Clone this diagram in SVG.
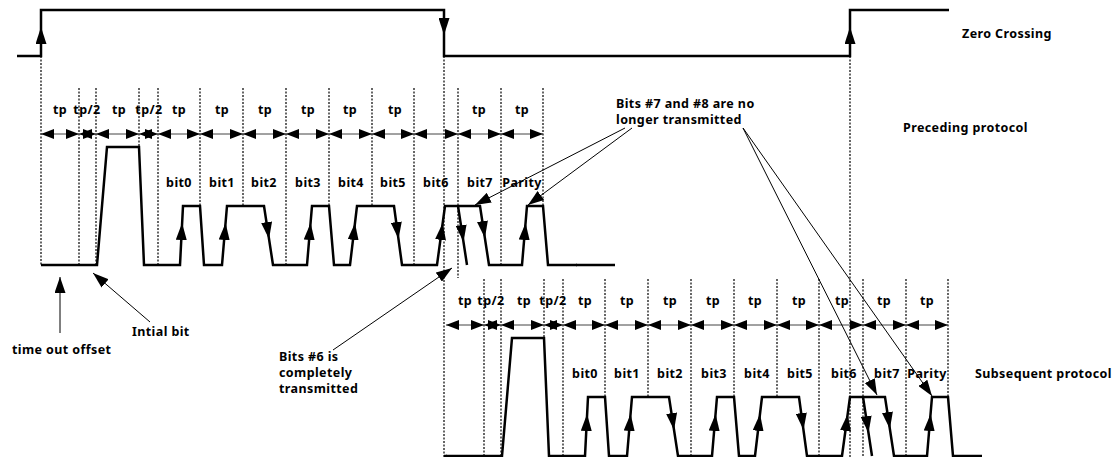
<svg xmlns="http://www.w3.org/2000/svg" xmlns:xlink="http://www.w3.org/1999/xlink" width="1117" height="457" viewBox="0 0 1117 457">
<style>
.t{font-family:"Noto Sans","DejaVu Sans",sans-serif;font-weight:bold;font-size:12.5px;letter-spacing:0.4px;fill:#000}
.c{text-anchor:middle}
.dot{stroke:#000;stroke-width:1.2;stroke-dasharray:2 1.5;fill:none}
.dim{stroke:#444;stroke-width:1;fill:none;marker-start:url(#dh);marker-end:url(#dh)}
.sig{stroke:#000;stroke-width:2.5;fill:none;stroke-linejoin:miter}
.ea{stroke:none;fill:none;marker-end:url(#eh)}
.ann{stroke:#000;stroke-width:1;fill:none;marker-end:url(#ah)}
</style>
<defs>
<marker id="dh" viewBox="0 0 13 10" refX="13" refY="5" markerWidth="13" markerHeight="10" markerUnits="userSpaceOnUse" orient="auto-start-reverse"><path d="M0,0 L13,5 L0,10 z" fill="#000"/></marker>
<marker id="eh" viewBox="0 0 17 11" refX="17" refY="5.5" markerWidth="17" markerHeight="11" markerUnits="userSpaceOnUse" orient="auto"><path d="M0,0 L17,5.5 L0,11 z" fill="#000"/></marker>
<marker id="ah" viewBox="0 0 16 11" refX="16" refY="5.5" markerWidth="16" markerHeight="11" markerUnits="userSpaceOnUse" orient="auto"><path d="M0,0 L16,5.5 L0,11 z" fill="#000"/></marker>
<g id="proto-gfx">
<path class="dot" d="M79,88V265 M96,88V265 M139,88V147 M158,88V265 M200,88V206 M243,88V206 M286,88V265 M329,88V206 M372,88V206 M414,88V265 M458,88V278 M501,88V265 M543,88V206"/>
<path class="dim" d="M41,134H79"/>
<path class="dim" d="M79,134H96"/>
<path class="dim" d="M96,134H139"/>
<path class="dim" d="M139,134H158"/>
<path class="dim" d="M158,134H200"/>
<path class="dim" d="M200,134H243"/>
<path class="dim" d="M243,134H286"/>
<path class="dim" d="M286,134H329"/>
<path class="dim" d="M329,134H372"/>
<path class="dim" d="M372,134H414"/>
<path class="dim" d="M414,134H458"/>
<path class="dim" d="M458,134H501"/>
<path class="dim" d="M501,134H543"/>
<path class="sig" d="M41,265 L97,265 L107,147 L139,147 L144,265 L180,265 L183,206 L200,206 L204,265 L222,265 L227,206 L264,206 L273,265 L307,265 L312,206 L329,206 L334,265 L350,265 L357,206 L394,206 L402,265 L437,265 L445,206 L480,206 L489,265 L522,265 L527,206 L543,206 L548,265 L577,265 M458,206 L467,265"/>
<path class="ea" d="M181.3,240 L182.1,223"/>
<path class="ea" d="M224.2,240 L225.6,223"/>
<path class="ea" d="M309.2,240 L310.6,223"/>
<path class="ea" d="M353.1,240 L355,223"/>
<path class="ea" d="M440.5,240 L442.7,223"/>
<path class="ea" d="M524.2,240 L525.6,223"/>
<path class="ea" d="M266.6,222 L269,239"/>
<path class="ea" d="M396.3,222 L398.5,239"/>
<path class="ea" d="M461.1,225 L463.5,242"/>
<path class="ea" d="M482.4,221 L484.9,238"/>
</g>
</defs>

<g id="zero-crossing">
<path class="sig" d="M17,56 L41,56 L41,10 L444,10 L444,56 L850,56 L850,10 L949,10"/>
<path class="ea" d="M41,44 L41,27"/>
<path class="ea" d="M444,18 L444,35"/>
<path class="ea" d="M850,44 L850,27"/>
<path class="dot" d="M41,56V265 M444,56V457 M850,56V457"/>
<text class="t" x="962" y="38">Zero Crossing</text>
</g>

<g id="preceding-protocol">
<use xlink:href="#proto-gfx"/>
<path class="sig" d="M576,265 L615,265"/>
<text class="t c" x="60" y="114">tp</text>
<text class="t c" x="87" y="114">tp/2</text>
<text class="t c" x="119" y="114">tp</text>
<text class="t c" x="149" y="114">tp/2</text>
<text class="t c" x="179" y="114">tp</text>
<text class="t c" x="222" y="114">tp</text>
<text class="t c" x="265" y="114">tp</text>
<text class="t c" x="308" y="114">tp</text>
<text class="t c" x="350" y="114">tp</text>
<text class="t c" x="395" y="114">tp</text>
<text class="t c" x="479" y="114">tp</text>
<text class="t c" x="522" y="114">tp</text>
<text class="t c" x="179" y="187">bit0</text>
<text class="t c" x="222" y="187">bit1</text>
<text class="t c" x="264" y="187">bit2</text>
<text class="t c" x="308" y="187">bit3</text>
<text class="t c" x="351" y="187">bit4</text>
<text class="t c" x="393" y="187">bit5</text>
<text class="t c" x="436" y="187">bit6</text>
<text class="t c" x="480" y="187">bit7</text>
<text class="t c" x="522" y="187">Parity</text>
<text class="t" x="903" y="132">Preceding protocol</text>
</g>

<g id="subsequent-protocol">
<use xlink:href="#proto-gfx" transform="translate(405,191)"/>
<path class="sig" d="M444,456 L447,456"/>
<text class="t c" x="465" y="305">tp</text>
<text class="t c" x="491" y="305">tp/2</text>
<text class="t c" x="524" y="305">tp</text>
<text class="t c" x="553" y="305">tp/2</text>
<text class="t c" x="585" y="305">tp</text>
<text class="t c" x="627" y="305">tp</text>
<text class="t c" x="670" y="305">tp</text>
<text class="t c" x="713" y="305">tp</text>
<text class="t c" x="755" y="305">tp</text>
<text class="t c" x="799" y="305">tp</text>
<text class="t c" x="842" y="305">tp</text>
<text class="t c" x="884" y="305">tp</text>
<text class="t c" x="927" y="305">tp</text>
<text class="t c" x="585" y="378">bit0</text>
<text class="t c" x="627" y="378">bit1</text>
<text class="t c" x="670" y="378">bit2</text>
<text class="t c" x="714" y="378">bit3</text>
<text class="t c" x="757" y="378">bit4</text>
<text class="t c" x="800" y="378">bit5</text>
<text class="t c" x="844" y="378">bit6</text>
<text class="t c" x="887" y="378">bit7</text>
<text class="t c" x="927" y="378">Parity</text>
<text class="t" x="975" y="378">Subsequent protocol</text>
</g>

<g id="note-timeout">
<text class="t" x="12" y="354">time out offset</text>
</g>
<g id="note-initial">
<text class="t" x="132" y="336">Intial bit</text>
</g>
<g id="note-bit6">
<text class="t" x="279" y="361"><tspan x="279" y="361">Bits #6 is</tspan><tspan x="279" y="377">completely</tspan><tspan x="279" y="393">transmitted</tspan></text>
</g>
<g id="note-bits78">
<text class="t" x="616" y="108"><tspan x="616" y="108">Bits #7 and #8 are no</tspan><tspan x="616" y="124">longer transmitted</tspan></text>
</g>

<g id="connectors">
<path class="ann" d="M60,333 L60,277"/>
<path class="ann" d="M150,322 L93,273"/>
<path class="ann" d="M333,350 L452,268"/>
<path class="ann" d="M625,128 L475,205"/>
<path class="ann" d="M632,128 L528,205"/>
<path class="ann" d="M743,128 L877,395"/>
<path class="ann" d="M743,128 L932,396"/>
</g>
</svg>
